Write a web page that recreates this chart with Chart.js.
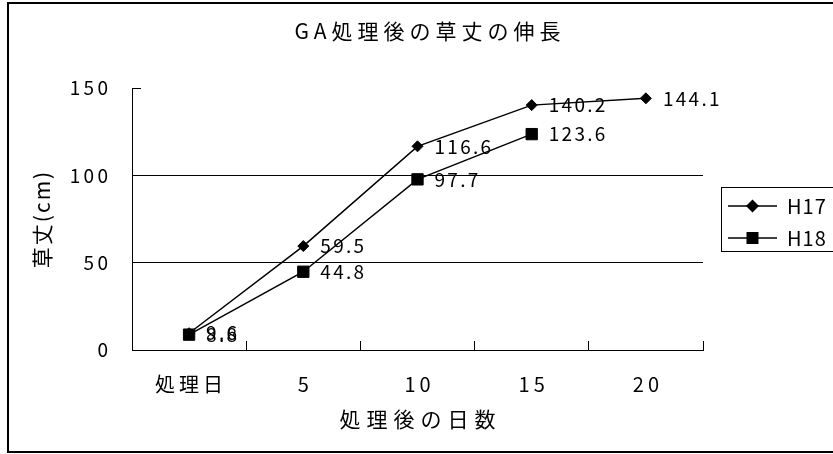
<!DOCTYPE html>
<html>
<head>
<meta charset="utf-8">
<script src="https://cdn.jsdelivr.net/npm/chart.js@4.4.1/dist/chart.umd.min.js"></script>
<style>
  html, body { margin: 0; padding: 0; background: #fff; }
  canvas { display: block; }
</style>
</head>
<body>
<canvas id="chart" width="833" height="454"></canvas>
<script>
// GA処理後の草丈の伸長 — 値はグラフから読み取り
const DAYS = ['処理日', '5', '10', '15', '20'];
const SERIES = ['H17', 'H18'];
const H17 = [9.6, 59.5, 116.6, 140.2, 144.1];
const H18 = [8.8, 44.8, 97.7, 123.6, null];
const Y_TICKS = [0, 50, 100, 150];

const FONT = "'Noto Sans CJK JP', 'Noto Sans', sans-serif";
const PAD_LEFT = 22;

// legend sample: line with the marker in the middle
function legendIcon(shape) {
  const c = document.createElement('canvas');
  c.width = 62; c.height = 20;
  const g = c.getContext('2d');
  g.strokeStyle = '#000'; g.fillStyle = '#000'; g.lineWidth = 1.5;
  g.beginPath(); g.moveTo(13, 10); g.lineTo(62, 10); g.stroke();
  const cx = 37.5, cy = 10;
  if (shape === 'rectRot') {
    g.beginPath();
    g.moveTo(cx, cy - 6.5); g.lineTo(cx + 6.5, cy); g.lineTo(cx, cy + 6.5); g.lineTo(cx - 6.5, cy);
    g.closePath(); g.fill();
  } else {
    g.fillRect(cx - 6, cy - 6, 12, 12);
  }
  return c;
}
const ICONS = [legendIcon('rectRot'), legendIcon('rect')];

// letter spacing per text element (canvas ctx.letterSpacing), dx undoes the trailing gap on centred text
function withSpacing(obj, name, px, dx) {
  if (!obj || obj[name].__spaced) return;
  const orig = obj[name];
  const fn = function (...args) {
    const ctx = this.ctx;
    ctx.save();
    ctx.letterSpacing = px + 'px';
    if (dx) ctx.translate(dx, 0);
    orig.apply(this, args);
    ctx.restore();
  };
  fn.__spaced = true;
  obj[name] = fn;
}

const spacingPlugin = {
  id: 'spacing',
  beforeUpdate(chart) { chart.ctx.letterSpacing = '3px'; },
  afterUpdate(chart) {
    withSpacing(chart.titleBlock, 'draw', 5, 2.5);
    withSpacing(chart.legend, 'draw', 1, 0);
    withSpacing(chart.scales.x, 'drawTitle', 6, 3);
    withSpacing(chart.scales.x, 'drawLabels', 4, 2);
    withSpacing(chart.scales.y, 'drawTitle', 2, 0);
    withSpacing(chart.scales.y, 'drawLabels', 3.3, 0);
  },
  beforeDraw(chart) { chart.ctx.letterSpacing = '3px'; }
};

const framePlugin = {
  id: 'frame',
  beforeDraw(chart) {
    const ctx = chart.ctx;
    ctx.save();
    ctx.strokeStyle = '#000';
    ctx.lineWidth = 2;
    ctx.strokeRect(8, 3, 840, 449);
    ctx.restore();
  },
  afterDraw(chart) {
    const hb = chart.legend && chart.legend.legendHitBoxes;
    if (!hb || !hb.length) return;
    const last = hb[hb.length - 1];
    const top = Math.round(hb[0].top - 9) + 0.5;
    const bottom = Math.round(last.top + last.height + 3) + 0.5;
    const ctx = chart.ctx;
    ctx.save();
    ctx.strokeStyle = '#000';
    ctx.lineWidth = 1;
    ctx.strokeRect(Math.round(hb[0].left + 6) + 0.5, top, 200, bottom - top);
    ctx.restore();
  }
};

const valueLabels = {
  id: 'valueLabels',
  afterDatasetsDraw(chart) {
    const ctx = chart.ctx;
    ctx.save();
    ctx.font = '19px ' + FONT;
    ctx.fillStyle = '#000';
    ctx.textAlign = 'left';
    ctx.textBaseline = 'middle';
    ctx.letterSpacing = '2.3px';
    chart.data.datasets.forEach((ds, i) => {
      chart.getDatasetMeta(i).data.forEach((pt, j) => {
        const v = ds.data[j];
        if (v == null) return;
        ctx.fillText(v.toFixed(1), pt.x + 17, pt.y);
      });
    });
    ctx.restore();
  }
};

Chart.defaults.color = '#000';
Chart.defaults.font.family = FONT;

new Chart(document.getElementById('chart'), {
  type: 'line',
  data: {
    labels: DAYS,
    datasets: [
      { label: SERIES[0], data: H17, order: 1, borderColor: '#000', backgroundColor: '#000', borderWidth: 1.5,
        pointStyle: 'rectRot', pointRadius: 5.5, pointBorderWidth: 1, tension: 0 },
      { label: SERIES[1], data: H18, order: 0, borderColor: '#000', backgroundColor: '#000', borderWidth: 1.5,
        pointStyle: 'rect', pointRadius: 8, pointBorderWidth: 1, tension: 0 }
    ]
  },
  options: {
    responsive: false,
    animation: false,
    devicePixelRatio: 1,
    events: [],
    layout: { padding: { left: PAD_LEFT, top: 0, right: 0, bottom: 0 } },
    plugins: {
      tooltip: { enabled: false },
      title: {
        display: true, text: 'GA処理後の草丈の伸長', color: '#000',
        font: { family: FONT, size: 21, weight: 'normal' },
        padding: { top: 18.9, bottom: 43.9 }
      },
      legend: {
        position: 'right', fullSize: false, maxWidth: 130,
        title: { display: true, text: '', font: { size: 5 }, padding: 0 },
        labels: {
          usePointStyle: true, pointStyleWidth: 62, padding: 12, color: '#000',
          font: { family: FONT, size: 20 },
          generateLabels: chart => Chart.defaults.plugins.legend.labels.generateLabels(chart)
            .sort((a, b) => a.datasetIndex - b.datasetIndex)
            .map(l => Object.assign(l, { pointStyle: ICONS[l.datasetIndex] }))
        }
      }
    },
    scales: {
      x: {
        offset: true,
        afterFit: s => { s.height = 104; },
        border: { color: '#000', width: 1 },
        grid: { offset: true, drawOnChartArea: false, tickColor: '#000', tickLength: -9, lineWidth: 1 },
        ticks: { font: { family: FONT, size: 20 }, color: '#000', padding: 31, maxRotation: 0, autoSkip: false },
        title: {
          display: true, text: '処理後の日数', color: '#000',
          font: { family: FONT, size: 21 }, padding: { top: 0, bottom: 22.4 }
        }
      },
      y: {
        min: 0, max: 150,
        afterBuildTicks: s => { s.ticks = Y_TICKS.map(v => ({ value: v })); },
        afterFit: s => { s.width = 132 - PAD_LEFT; },
        border: { color: '#000', width: 1 },
        grid: {
          color: c => (c.tick && c.tick.value > 0 && c.tick.value < 150) ? '#000' : 'rgba(0,0,0,0)',
          tickColor: '#000', tickLength: -9, lineWidth: 1
        },
        ticks: { font: { family: FONT, size: 19 }, color: '#000', padding: 29.7 },
        title: {
          display: true, text: '草丈(cm)', color: '#000',
          font: { family: FONT, size: 21 }, padding: { top: 7.4, bottom: 0 }
        }
      }
    }
  },
  plugins: [spacingPlugin, framePlugin, valueLabels]
});
</script>
</body>
</html>
